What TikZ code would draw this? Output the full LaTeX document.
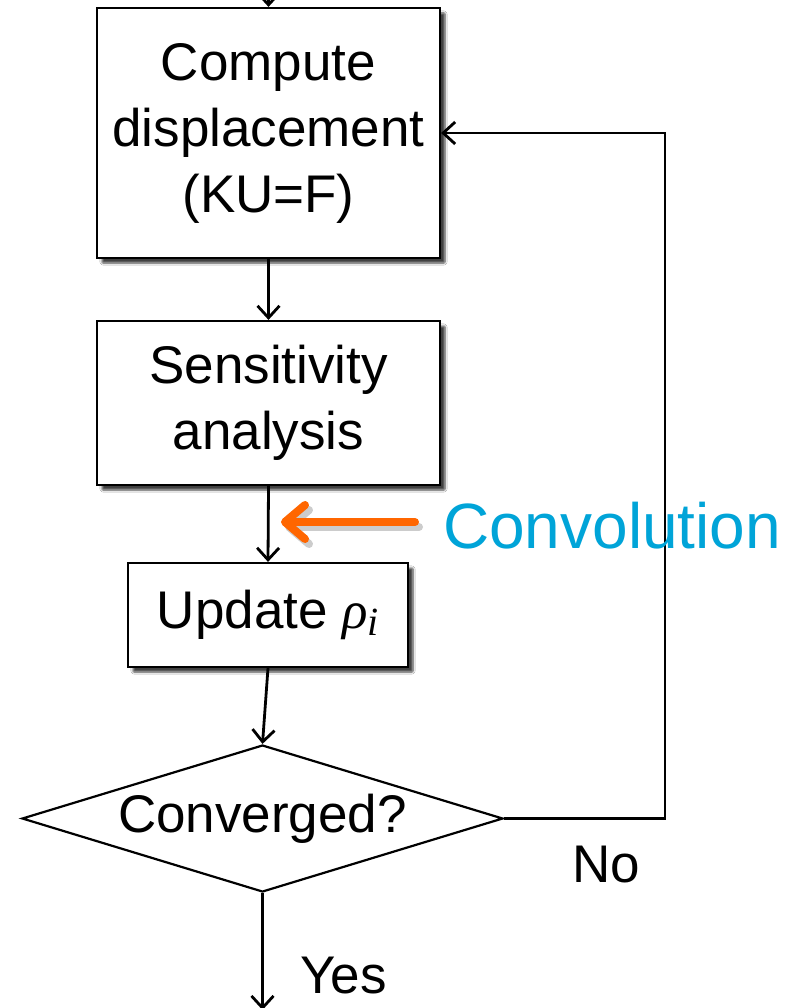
\documentclass[tikz,border=0pt]{standalone}
\usepackage{fontspec}
\setmainfont{Liberation Sans}
\newfontfamily\greekserif{Liberation Serif}
\usetikzlibrary{arrows.meta,shapes.geometric,shadows.blur}
\definecolor{convorange}{RGB}{255,102,0}
\definecolor{convcyan}{RGB}{0,164,216}
\newcommand{\rhosub}{{\greekserif\itshape ρ\raisebox{-0.28ex}{\fontsize{40}{40}\selectfont\itshape i}}}
\tikzset{
  box/.style={draw=black, line width=2.2pt, fill=white, align=center, inner sep=0pt,
    font=\fontsize{53}{66}\selectfont,
    blur shadow={shadow xshift=5pt, shadow yshift=-5pt, shadow blur steps=6, shadow blur extra rounding=1pt, shadow opacity=75}},
  decision/.style={draw=black, line width=2.2pt, fill=white, shape=diamond, shape aspect=3.27, inner sep=0pt,
    minimum width=481pt, minimum height=147pt, font=\fontsize{53}{66}\selectfont},
  flow/.style={line width=2.8pt, -{Straight Barb[length=12pt,width=22pt,line width=2.8pt]}},
  lbl/.style={font=\fontsize{53}{66}\selectfont, inner sep=0pt},
}
\begin{document}
\begin{tikzpicture}[x=1pt,y=1pt]
\useasboundingbox (0,0) rectangle (792,-1008);
\fill[white] (0,0) rectangle (792,-1008);

\node[box, minimum width=343pt, minimum height=250pt] (comp) at (268.5,-133) {Compute\\displacement\\(KU=F)};
\node[box, minimum width=343pt, minimum height=164pt] (sens) at (268.5,-403) {Sensitivity\\analysis};
\node[box, minimum width=280pt, minimum height=104pt] (upd) at (268,-615) {Update \rhosub};
\node[decision] (dec) at (262.5,-818.5) {Converged?};

\coordinate (topin) at (268.5,30);
\coordinate (loopcorner1) at (665,-818.5);
\coordinate (loopcorner2) at (665,-133);
\coordinate (yesend) at (262.5,-1010);

\draw[flow] (topin) -- (comp.north);
\draw[flow] (comp.south) -- (sens.north);
\draw[flow] (sens.south) -- (upd.north);
\draw[flow] (upd.south) -- (dec.north);
\draw[flow] (dec.east) -- (loopcorner1) -- (loopcorner2) -- (comp.east);
\draw[flow] (dec.south) -- (yesend);

\node[lbl, anchor=base west] (no) at (572,-882) {No};
\node[lbl, anchor=base west] (yes) at (300,-993) {Yes};

% Convolution arrow
\coordinate (cstart) at (415,-522);
\coordinate (cend) at (281,-522);
\draw[line width=8pt, black, opacity=0.2, line cap=round, -{Straight Barb[round,length=20pt,width=34pt,line width=8pt]}]
  ([shift={(4pt,-5pt)}]cstart) -- ([shift={(4pt,-5pt)}]cend);
\draw[line width=8pt, convorange, line cap=round, -{Straight Barb[round,length=20pt,width=34pt,line width=8pt]}] (cstart) -- (cend);
\node[anchor=base west, inner sep=0pt, text=convcyan, font=\fontsize{64}{76}\selectfont] (convlbl) at (443,-548) {Convolution};
\end{tikzpicture}
\end{document}
